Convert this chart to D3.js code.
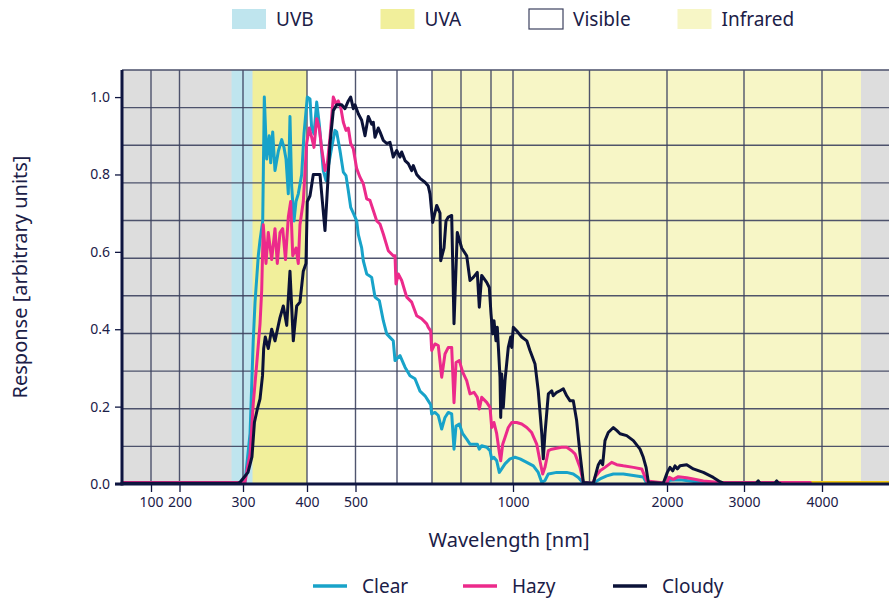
<!DOCTYPE html>
<html>
<head>
<meta charset="utf-8">
<script src="https://cdn.jsdelivr.net/npm/d3@7"></script>
<style>
  html, body { margin: 0; padding: 0; background: #ffffff; }
  svg { display: block; }
  text { font-family: "Noto Sans", "Open Sans", sans-serif; fill: #1b2047; }
</style>
</head>
<body>
<svg id="chart" width="889" height="598"></svg>
<script>
// ---------------- DATA ----------------
const bandNames = ["UVB", "UVA", "Visible", "Infrared"];
const bandStart = [282, 315, 400, 700];
const bandEnd   = [315, 400, 700, 4500];
const seriesNames = ["Clear", "Hazy", "Cloudy"];

const xTickValues = [100, 200, 300, 400, 500, 1000, 2000, 3000, 4000];
const xGridValues = [100, 200, 300, 400, 500, 600, 700, 800, 900, 1000, 1500, 2000, 3000, 4000];
const yTickValues = [0, 0.2, 0.4, 0.6, 0.8, 1.0];

// wavelength [nm], response
const clearData = [
  [0,0.003],[303,0.003],[311,0.13],[316,0.37],[318.8,0.47],[323.9,0.59],[326.6,0.63],[330.8,0.68],
  [333.3,1.0],[337,0.84],[341,0.90],[343.3,0.83],[346.4,0.91],[350,0.81],[355.2,0.86],[360.5,0.89],
  [364,0.87],[367.2,0.84],[370.8,0.75],[373.4,0.95],[376,0.77],[379.7,0.68],[382.8,0.73],[386.4,0.75],
  [391.7,0.80],[395.3,0.905],[400.6,1.0],[406.2,0.995],[409.6,0.92],[414.4,0.905],[420,0.987],
  [425.3,0.93],[428.2,0.89],[433.6,0.81],[439.2,0.784],[443.9,0.82],[450.9,0.87],[457.7,0.914],
  [461.2,0.91],[468,0.862],[474.9,0.806],[480.4,0.797],[485.2,0.758],[490.1,0.715],[495.5,0.70],
  [502.9,0.68],[506.7,0.645],[514.9,0.61],[518.8,0.577],[527,0.543],[539,0.534],[547,0.483],
  [557.4,0.474],[567,0.422],[575.2,0.388],[583.1,0.379],[591,0.37],[595.2,0.319],[608.6,0.332],
  [622.9,0.302],[637.1,0.28],[651.4,0.272],[665.7,0.24],[680,0.228],[689.4,0.215],[696.3,0.205],
  [699.1,0.181],[710.3,0.185],[721.7,0.177],[733.4,0.142],[744.8,0.172],[756.2,0.185],[767.9,0.181],
  [775.9,0.09],[782.8,0.15],[794.1,0.155],[805.7,0.13],[819,0.116],[830,0.103],[854.3,0.103],
  [861,0.09],[869,0.099],[885.7,0.095],[896.7,0.086],[903.2,0.065],[913.6,0.069],[925.9,0.06],
  [937.7,0.03],[948.6,0.039],[963.6,0.052],[986.4,0.065],[1013,0.069],[1046,0.065],[1090,0.056],
  [1133,0.047],[1165,0.03],[1188,0.004],[1209,0.009],[1231,0.026],[1286,0.03],[1351,0.03],
  [1394,0.026],[1427,0.017],[1460,0.002],[1523,0.002],[1568,0.013],[1611,0.021],[1654,0.026],
  [1718,0.026],[1783,0.022],[1847,0.018],[1869,0.002],[1998,0.002],[2039,0.01],[2169,0.011],
  [2299,0.008],[2516,0.002],[3400,0.002]
];
const hazyData = [
  [0,0.004],[303,0.004],[311,0.078],[316,0.207],[321.4,0.31],[326.6,0.414],[329.2,0.50],[331.7,0.67],
  [335.9,0.57],[339.5,0.65],[344.8,0.58],[350,0.66],[353.6,0.57],[357.8,0.65],[362,0.66],[366.4,0.58],
  [370.8,0.69],[374.5,0.73],[377.7,0.59],[382.8,0.61],[386.4,0.57],[389,0.67],[394.2,0.73],[399.5,0.88],
  [404.7,0.92],[409.7,0.896],[414.4,0.87],[420,0.944],[425.3,0.92],[430.3,0.866],[437.1,0.81],
  [441.9,0.828],[447.4,0.896],[454.2,1.0],[459.8,0.983],[464.5,0.99],[469.5,0.974],[474.9,0.935],
  [480.4,0.914],[485.2,0.92],[490.1,0.88],[495.5,0.866],[502.9,0.815],[510.8,0.793],[518.8,0.776],
  [527,0.737],[534.9,0.733],[542.9,0.707],[551.1,0.68],[559,0.672],[567,0.646],[579,0.603],
  [591,0.59],[595.2,0.59],[597.6,0.517],[603.7,0.543],[613.4,0.526],[627.7,0.483],[642,0.47],
  [656.3,0.435],[670.6,0.427],[684.9,0.414],[689.4,0.405],[696.3,0.396],[699.1,0.345],[710.3,0.362],
  [721.7,0.358],[733.4,0.276],[744.8,0.336],[756.2,0.353],[767.9,0.353],[775.9,0.21],[782.8,0.314],
  [794.1,0.319],[805.7,0.289],[819,0.267],[830,0.233],[843.3,0.237],[854.3,0.224],[861,0.194],
  [869,0.224],[885.7,0.211],[896.7,0.198],[903.2,0.146],[913.6,0.159],[925.9,0.13],[937.7,0.082],
  [944.1,0.06],[953.2,0.103],[963.6,0.12],[978.6,0.146],[994.1,0.159],[1024,0.159],[1057,0.155],
  [1090,0.146],[1122,0.133],[1155,0.103],[1176,0.06],[1194,0.026],[1209,0.043],[1231,0.086],
  [1253,0.09],[1318,0.095],[1351,0.095],[1384,0.086],[1405,0.078],[1438,0.043],[1460,0.004],
  [1523,0.002],[1535,0.017],[1568,0.034],[1600,0.043],[1643,0.056],[1676,0.05],[1718,0.047],
  [1783,0.043],[1837,0.039],[1869,0.008],[1998,0.002],[2030,0.017],[2082,0.012],[2147,0.019],
  [2256,0.016],[2342,0.013],[2472,0.008],[2688,0.004],[3850,0.004]
];
const cloudyData = [
  [0,0.002],[292,0.002],[295,0.004],[303,0.02],[307.8,0.03],[314,0.07],[317.9,0.16],[321.9,0.19],
  [326.6,0.22],[330.5,0.28],[332.3,0.35],[334.8,0.38],[339.5,0.35],[344.8,0.40],[350,0.37],
  [357.8,0.43],[363,0.46],[368.3,0.41],[373.4,0.55],[378.6,0.37],[383.9,0.46],[389,0.47],
  [394.2,0.55],[398.4,0.57],[400.6,0.73],[406.2,0.745],[413,0.80],[420,0.80],[426.8,0.80],
  [430.3,0.75],[437.1,0.655],[440.6,0.73],[447.4,0.88],[454.2,0.965],[461.2,0.98],[471.5,0.98],
  [478.3,0.97],[485.2,0.99],[490.1,1.0],[495.5,0.97],[499,0.98],[506.7,0.957],[514.9,0.94],
  [522.9,0.90],[530.8,0.95],[539,0.93],[542.9,0.935],[547,0.896],[554.9,0.92],[559,0.91],
  [567,0.888],[575.2,0.88],[583.1,0.883],[591,0.845],[599.3,0.862],[608.6,0.845],[613.4,0.858],
  [622.9,0.836],[632.3,0.828],[642,0.81],[646.6,0.823],[656.3,0.80],[665.7,0.79],[680,0.78],
  [689.4,0.77],[694.3,0.75],[702.4,0.676],[716.2,0.72],[727.6,0.70],[730,0.577],[741.4,0.61],
  [748.3,0.68],[756.2,0.69],[767.9,0.694],[775.9,0.414],[787.2,0.65],[802.3,0.61],[819,0.59],
  [830,0.526],[841,0.534],[854.3,0.547],[861,0.457],[869,0.539],[885.7,0.521],[894.3,0.508],
  [900,0.44],[907.7,0.388],[913.6,0.422],[922.7,0.37],[928.6,0.405],[940.9,0.276],[944.1,0.172],
  [948.6,0.284],[955.9,0.198],[963.6,0.267],[978.6,0.353],[989.5,0.38],[994.1,0.353],[1002,0.405],
  [1024,0.396],[1057,0.38],[1090,0.37],[1111,0.345],[1144,0.31],[1165,0.241],[1188,0.13],
  [1198,0.065],[1209,0.13],[1231,0.233],[1253,0.241],[1263,0.228],[1286,0.237],[1307,0.241],
  [1329,0.246],[1351,0.228],[1373,0.215],[1394,0.215],[1416,0.164],[1438,0.078],[1460,0.004],
  [1525,0.002],[1546,0.034],[1557,0.05],[1572,0.06],[1585,0.05],[1600,0.112],[1621,0.133],
  [1654,0.146],[1677,0.138],[1697,0.13],[1740,0.125],[1783,0.112],[1826,0.09],[1847,0.069],
  [1865,0.043],[1880,0.004],[1976,0.002],[2004,0.03],[2039,0.043],[2074,0.034],[2104,0.047],
  [2134,0.039],[2169,0.047],[2256,0.05],[2342,0.039],[2472,0.03],[2601,0.017],[2688,0.006],
  [2731,0.002],[3154,0.002],[3183,0.008],[3205,0.002],[3397,0.002],[3419,0.008],[3440,0.002],[3462,0.002]
];
const tailData = [[3850,0.004],[5000,0.004]];

// ---------------- LAYOUT / STYLE ----------------
const W = 889, H = 598;
const margin = { left: 122, top: 70, bottom: 484 };
const colors = { Clear: "#18a3c9", Hazy: "#ec2a8b", Cloudy: "#0b1238" };
const bandFill = { UVB: "#bfe5ee", UVA: "#f1ef9b", Visible: "#ffffff", Infrared: "#f7f6c6" };
const navy = "#0e1540";
const gridColor = "#3d425f";

const svg = d3.select("#chart");

// piecewise wavelength axis (as in the original figure)
const xBreaks = [0, 100, 200, 300, 400, 500, 600, 700, 800, 900, 1000, 1500, 2000, 3000, 4000, 5000];
const xBreakPos = [0, 29, 57.5, 121, 185, 233.5, 275, 310, 339, 369, 391, 467.5, 545, 622, 700, 778];
const x = d3.scaleLinear().domain(xBreaks).range(xBreakPos.map(p => margin.left + p));
const yMax = 1.07;
const y = d3.scaleLinear().domain([0, yMax]).range([margin.bottom, margin.top]);

const plotRight = x(5000);

// gray background
svg.append("rect")
  .attr("x", x(0)).attr("y", y(yMax))
  .attr("width", plotRight - x(0)).attr("height", y(0) - y(yMax))
  .attr("fill", "#dddddd");

// bands
bandNames.forEach((b, i) => {
  svg.append("rect")
    .attr("x", x(bandStart[i])).attr("y", y(yMax))
    .attr("width", x(bandEnd[i]) - x(bandStart[i]))
    .attr("height", y(0) - y(yMax))
    .attr("fill", bandFill[b]);
});

// grid
const gridY = d3.range(1, 11).map(k => yMax * k / 11);
svg.append("g").selectAll("line").data(gridY).join("line")
  .attr("x1", x(0)).attr("x2", plotRight)
  .attr("y1", d => y(d)).attr("y2", d => y(d))
  .attr("stroke", gridColor).attr("stroke-width", 1.4).attr("stroke-opacity", 0.9);
svg.append("g").selectAll("line").data(xGridValues).join("line")
  .attr("x1", d => x(d)).attr("x2", d => x(d))
  .attr("y1", y(0)).attr("y2", y(yMax))
  .attr("stroke", gridColor).attr("stroke-width", 1.4).attr("stroke-opacity", 0.9);

// top frame
svg.append("line")
  .attr("x1", x(0)).attr("x2", plotRight)
  .attr("y1", y(yMax)).attr("y2", y(yMax))
  .attr("stroke", "#4a4f6a").attr("stroke-width", 1.5);

// series
const line = d3.line().x(d => x(d[0])).y(d => y(d[1])).curve(d3.curveLinear);
const seriesData = [clearData, hazyData, cloudyData];
svg.append("path").datum(tailData).attr("d", line)
  .attr("fill", "none").attr("stroke", "#f2c80f").attr("stroke-width", 3);
seriesNames.forEach((name, i) => {
  svg.append("path").datum(seriesData[i]).attr("d", line)
    .attr("fill", "none").attr("stroke", colors[name])
    .attr("stroke-width", 3).attr("stroke-linejoin", "round").attr("stroke-linecap", "round");
});

// axes
const xAxis = d3.axisBottom(x).tickValues(xTickValues).tickFormat(d3.format("d")).tickSize(8).tickPadding(5);
const gx = svg.append("g").attr("transform", `translate(0,${y(0)})`).call(xAxis);
gx.select(".domain").remove();
gx.selectAll(".tick line").attr("stroke", navy).attr("stroke-width", 1.3);
gx.selectAll(".tick text").style("font-size", "14px").attr("fill", "#1b2047")
  .style("font-family", "'Noto Sans', sans-serif");

const yAxis = d3.axisLeft(y).tickValues(yTickValues).tickFormat(d3.format(".1f")).tickSize(7).tickPadding(5);
const gy = svg.append("g").attr("transform", `translate(${x(0)},0)`).call(yAxis);
gy.select(".domain").remove();
gy.selectAll(".tick line").attr("stroke", navy).attr("stroke-width", 1.3);
gy.selectAll(".tick text").style("font-size", "14px").attr("fill", "#1b2047")
  .style("font-family", "'Noto Sans', sans-serif");

// axis lines
svg.append("line").attr("x1", x(0)).attr("x2", x(0)).attr("y1", y(yMax)).attr("y2", y(0) + 1.5)
  .attr("stroke", navy).attr("stroke-width", 3);
svg.append("line").attr("x1", x(0) - 7).attr("x2", W).attr("y1", y(0)).attr("y2", y(0))
  .attr("stroke", navy).attr("stroke-width", 3);

// axis titles
svg.append("text").attr("x", 509).attr("y", 547).attr("text-anchor", "middle")
  .style("font-size", "20px").text("Wavelength [nm]");
svg.append("text").attr("transform", `translate(27,${(y(0) + y(yMax)) / 2}) rotate(-90)`)
  .attr("text-anchor", "middle").style("font-size", "20px").text("Response [arbitrary units]");

// top legend
const topLegend = svg.append("g");
bandNames.forEach((b, i) => {
  const lx = 232 + i * 148.5;
  topLegend.append("rect").attr("x", lx).attr("y", 9).attr("width", 34).attr("height", 20)
    .attr("fill", bandFill[b])
    .attr("stroke", b === "Visible" ? "#3d425f" : "none").attr("stroke-width", 1.2);
  topLegend.append("text").attr("x", lx + 44).attr("y", 26).style("font-size", "19px").text(b);
});

// bottom legend
const botLegend = svg.append("g");
seriesNames.forEach((name, i) => {
  const lx = 313 + i * 150;
  botLegend.append("line").attr("x1", lx).attr("x2", lx + 34).attr("y1", 586).attr("y2", 586)
    .attr("stroke", colors[name]).attr("stroke-width", 3.5);
  botLegend.append("text").attr("x", lx + 49).attr("y", 593).style("font-size", "19px").text(name);
});
</script>
</body>
</html>
